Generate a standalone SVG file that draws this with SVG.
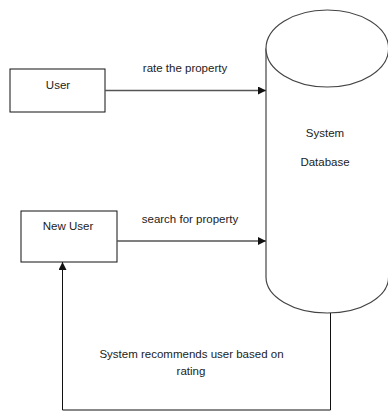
<svg xmlns="http://www.w3.org/2000/svg" width="388" height="413" viewBox="0 0 388 413">
<style>
text{font-family:"Liberation Sans",Arial,sans-serif;font-size:11.5px;fill:#222;text-anchor:middle}
.box{fill:#fff;stroke:#111;stroke-width:1}
.cyl{fill:#fff;stroke:#444;stroke-width:1.2}
.flow{fill:none;stroke:#555;stroke-width:1.6}
.fb{fill:none;stroke:#111;stroke-width:1}
</style>
<defs>
<marker id="ah" viewBox="0 0 10 10" refX="10" refY="5" markerWidth="8" markerHeight="8" markerUnits="userSpaceOnUse" orient="auto">
<path d="M0,0 L10,5 L0,10 z" fill="#111"/>
</marker>
</defs>
<rect width="388" height="413" fill="#fff"/>
<g id="db">
<path class="cyl" d="M266,48.5 V277 A61.3,36 0 0 0 388.6,277 V48.5"/>
<ellipse class="cyl" cx="327.3" cy="48.5" rx="61.3" ry="38.5"/>
<text x="325" y="137">System</text>
<text x="325" y="166">Database</text>
</g>
<g id="user">
<rect class="box" x="10" y="69" width="95" height="43"/>
<text x="58" y="89">User</text>
</g>
<g id="newuser">
<rect class="box" x="21" y="211" width="96" height="51"/>
<text x="68" y="230">New User</text>
</g>
<g id="connectors">
<line class="flow" x1="105" y1="90.5" x2="266" y2="90.5" marker-end="url(#ah)"/>
<text x="185" y="72">rate the property</text>
<line class="flow" x1="117" y1="241" x2="266" y2="241" marker-end="url(#ah)"/>
<text x="190" y="223">search for property</text>
<path class="fb" d="M330.5,313 V410 H62.5 V262" marker-end="url(#ah)"/>
<text x="191.5" y="358">System recommends user based on</text>
<text x="191" y="375">rating</text>
</g>
</svg>
